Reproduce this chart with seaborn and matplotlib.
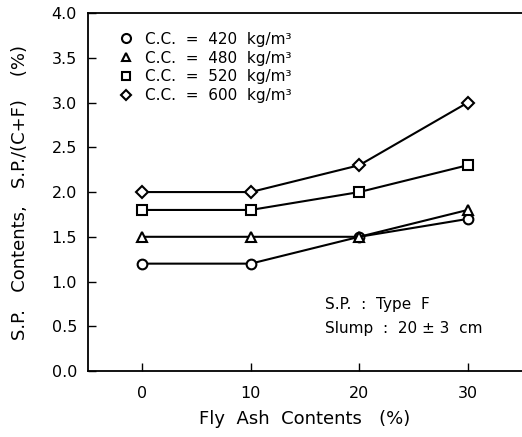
import matplotlib
matplotlib.use("Agg")
import matplotlib.pyplot as plt
import seaborn as sns
import pandas as pd

fly_ash = [0, 10, 20, 30]
sp_420 = [1.2, 1.2, 1.5, 1.7]
sp_480 = [1.5, 1.5, 1.5, 1.8]
sp_520 = [1.8, 1.8, 2.0, 2.3]
sp_600 = [2.0, 2.0, 2.3, 3.0]
cement = ["420", "480", "520", "600"]
y_ticks = [0.0, 0.5, 1.0, 1.5, 2.0, 2.5, 3.0, 3.5, 4.0]

series = {"420": sp_420, "480": sp_480, "520": sp_520, "600": sp_600}
rows = []
for cc in cement:
    for x, y in zip(fly_ash, series[cc]):
        rows.append({"fa": x, "sp": y, "cc": cc})
df = pd.DataFrame(rows)

sns.set_style("ticks")
plt.rcParams["font.family"] = ["DejaVu Sans"]
plt.rcParams["text.color"] = "black"
plt.rcParams["axes.labelcolor"] = "black"

fig = plt.figure(figsize=(5.22, 4.37), dpi=100)
ax = fig.add_axes([0.1686, 0.151, 0.8314, 0.819])

markers = {"420": "o", "480": "^", "520": "s", "600": "D"}
msize = {"420": 7, "480": 6.5, "520": 6.5, "600": 6}
handles = []
for cc in cement:
    sub = df[df["cc"] == cc]
    sns.lineplot(data=sub, x="fa", y="sp", ax=ax, color="black", lw=1.5,
                 marker=markers[cc], markersize=msize[cc],
                 markerfacecolor="white", markeredgecolor="black",
                 markeredgewidth=1.5, legend=False)
    h, = ax.plot([], [], ls="none", marker=markers[cc],
                 markersize=msize[cc] - 0.5,
                 markerfacecolor="white", markeredgecolor="black",
                 markeredgewidth=1.5)
    handles.append(h)

labels = [f"C.C.  =  {cc}  kg/m\u00b3" for cc in cement]
leg = ax.legend(handles, labels, loc="upper left", frameon=False, fontsize=11,
                handlelength=1.0, handletextpad=0.75, labelspacing=0.25,
                borderaxespad=0.0, bbox_to_anchor=(0.055, 0.965))

ax.set_xlim(-5, 35)
ax.set_ylim(0, 4.0)
ax.set_xticks(fly_ash)
ax.set_yticks(y_ticks)
ax.set_yticklabels([f"{v:.1f}" for v in y_ticks])
ax.tick_params(direction="in", length=6, width=1.0, labelsize=11.5,
               color="black", labelcolor="black")
ax.tick_params(axis="x", pad=11)
ax.tick_params(axis="y", pad=8)

for side in ["left", "bottom", "top"]:
    ax.spines[side].set_color("black")
    ax.spines[side].set_linewidth(1.3)
ax.spines["right"].set_visible(False)

ax.set_xlabel("Fly  Ash  Contents   (%)", fontsize=13, labelpad=6)
ax.set_ylabel("S.P.   Contents,   S.P./(C+F)    (%)", fontsize=13, labelpad=16)

ax.text(16.8, 0.74, "S.P.  :  Type  F", fontsize=11, va="center")
ax.text(16.8, 0.48, "Slump  :  20 ± 3  cm", fontsize=11, va="center")

fig.savefig("out.png", dpi=100)
